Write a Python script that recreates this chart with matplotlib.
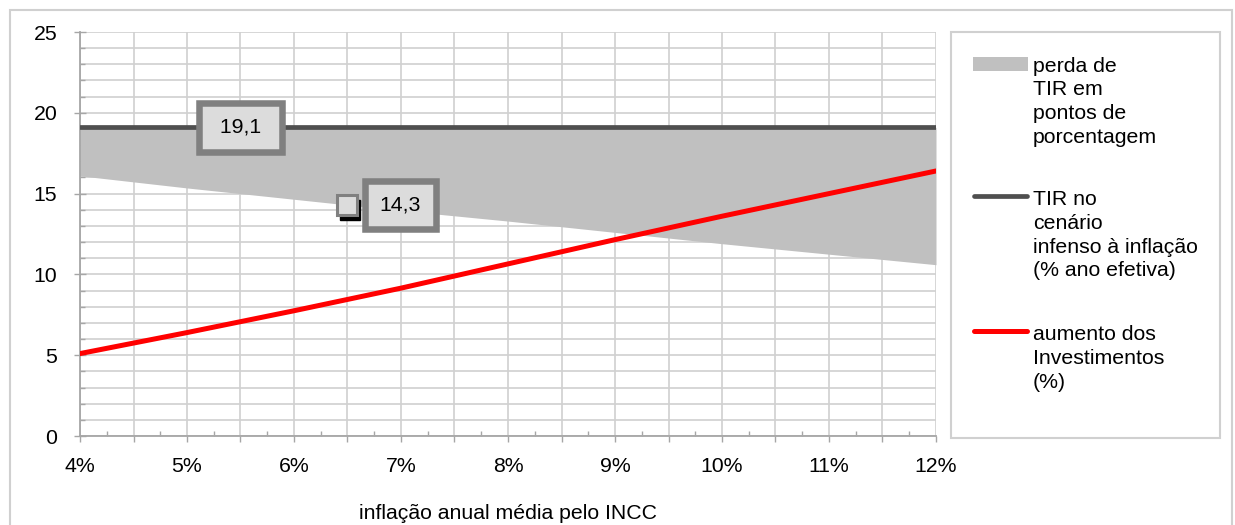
import matplotlib
matplotlib.use("Agg")
import matplotlib.pyplot as plt
import matplotlib.ticker as mticker
import matplotlib.transforms as mtransforms
from matplotlib.patches import Rectangle
from matplotlib.lines import Line2D

# inflação anual média pelo INCC (%)
inflacao = [4, 5, 6, 7, 8, 9, 10, 11, 12]
# TIR no cenário infenso à inflação (% ano efetiva)
tir_base = [19.1, 19.1, 19.1, 19.1, 19.1, 19.1, 19.1, 19.1, 19.1]
# TIR com a inflação (limite inferior da área de perda)
tir_com_inflacao = [16.1, 15.35, 14.65, 13.95, 13.3, 12.6, 11.9, 11.25, 10.6]
# aumento dos investimentos (%)
aumento_invest = [5.1, 6.4, 7.75, 9.15, 10.65, 12.15, 13.6, 15.0, 16.4]

# rótulos de dados
rotulo_x = [5.5, 6.5]
rotulo_y = [19.1, 14.3]
rotulo_txt = ["19,1", "14,3"]

legenda_txt = [
    ["perda de", "TIR em", "pontos de", "porcentagem"],
    ["TIR no", "cenário", "infenso à inflação", "(% ano efetiva)"],
    ["aumento dos", "Investimentos", "(%)"],
]

FS = 15.3
plt.rcParams["font.family"] = ["Liberation Sans", "DejaVu Sans"]
plt.rcParams["font.size"] = FS

W, H = 1235, 525
fig = plt.figure(figsize=(W / 100, H / 100), dpi=100)


def fx(px):
    return px / W


def fy(py):
    return 1 - py / H


# moldura externa do gráfico
fig.patches.append(Rectangle((fx(10), fy(540)), fx(1232) - fx(10), fy(10) - fy(540),
                             transform=fig.transFigure, fill=False,
                             edgecolor="#d0d0d0", linewidth=1.5))

ax = fig.add_axes([fx(80), fy(436), fx(936) - fx(80), fy(32) - fy(436)])
ax.set_xlim(4, 12)
ax.set_ylim(0, 25)

grid_c = "#d0d0d0"
ax.set_axisbelow(True)
ax.xaxis.set_major_locator(mticker.MultipleLocator(0.5))
ax.xaxis.set_minor_locator(mticker.MultipleLocator(0.25))
ax.xaxis.set_major_formatter(mticker.FuncFormatter(
    lambda v, p: f"{v:.0f}%" if abs(v - round(v)) < 1e-6 else ""))
ax.yaxis.set_major_locator(mticker.MultipleLocator(5))
ax.yaxis.set_minor_locator(mticker.MultipleLocator(1))
ax.grid(True, axis="x", which="major", color=grid_c, linewidth=1.2)
ax.grid(True, axis="y", which="both", color=grid_c, linewidth=1.2)

for s in ("top", "right"):
    ax.spines[s].set_visible(False)
for s in ("left", "bottom"):
    ax.spines[s].set_color("#a6a6a6")
    ax.spines[s].set_linewidth(1.3)

ax.tick_params(axis="x", which="major", direction="out", length=4.3, width=1,
               color="#a6a6a6", pad=11, labelsize=FS)
ax.tick_params(axis="x", which="minor", direction="in", length=3.6, width=1,
               color="#a6a6a6")
ax.tick_params(axis="y", which="major", direction="inout", length=8.6, width=1,
               color="#a6a6a6", pad=12, labelsize=FS)
ax.tick_params(axis="y", which="minor", direction="in", length=3.6, width=1,
               color="#a6a6a6")

ax.fill_between(inflacao, tir_com_inflacao, tir_base, color="#c0c0c0",
                linewidth=0, zorder=2)
ax.plot(inflacao, tir_base, color="#4f4f4f", linewidth=3.4,
        solid_capstyle="round", zorder=3)
ax.plot(inflacao, aumento_invest, color="#ff0000", linewidth=3.6,
        solid_capstyle="round", zorder=4)

# marcador do ponto 14,3 com sombra
sombra = mtransforms.offset_copy(ax.transData, fig=fig, x=3, y=-5, units="dots")
ax.plot([rotulo_x[1]], [rotulo_y[1]], marker="s", markersize=14.5,
        color="black", linestyle="none", transform=sombra, zorder=5)
ax.plot([rotulo_x[1]], [rotulo_y[1]], marker="s", markersize=14,
        markerfacecolor="#dcdcdc", markeredgecolor="#808080",
        markeredgewidth=2.2, linestyle="none", zorder=6)

caixa = dict(boxstyle="square,pad=0.7", facecolor="#dcdcdc",
             edgecolor="#808080", linewidth=4.7)
ax.annotate(f" {rotulo_txt[0]} ", xy=(rotulo_x[0], rotulo_y[0]), ha="center",
            va="center", fontsize=FS, bbox=caixa, zorder=7)
ax.annotate(rotulo_txt[1], xy=(rotulo_x[1], rotulo_y[1]), xytext=(38, 0),
            textcoords="offset points", ha="center", va="center",
            fontsize=FS, bbox=caixa, zorder=7)

ax.set_xlabel("inflação anual média pelo INCC", fontsize=FS, labelpad=20)

# legenda
fig.patches.append(Rectangle((fx(951), fy(438)), fx(1220) - fx(951), fy(32) - fy(438),
                             transform=fig.transFigure, fill=True,
                             facecolor="white", edgecolor="#d0d0d0", linewidth=1.5))
fig.patches.append(Rectangle((fx(973), fy(71)), fx(1028) - fx(973), fy(57) - fy(71),
                             transform=fig.transFigure, facecolor="#c0c0c0",
                             edgecolor="none"))
fig.lines.append(Line2D([fx(974), fx(1027)], [fy(196), fy(196)],
                        transform=fig.transFigure, color="#4f4f4f",
                        linewidth=3.4, solid_capstyle="round"))
fig.lines.append(Line2D([fx(974), fx(1027)], [fy(331), fy(331)],
                        transform=fig.transFigure, color="#ff0000",
                        linewidth=3.6, solid_capstyle="round"))

baselines = [71.5, 205, 340]
passo = 23.8
for linhas, b in zip(legenda_txt, baselines):
    for i, t in enumerate(linhas):
        fig.text(fx(1033), fy(b + i * passo), t, ha="left", va="baseline",
                 fontsize=FS)

fig.savefig("out.png", dpi=100)
